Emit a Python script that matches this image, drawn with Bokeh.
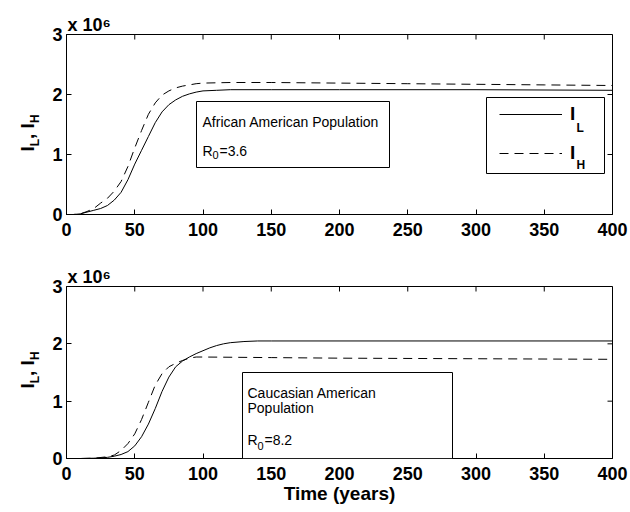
from bokeh.plotting import figure
from bokeh.models import (Label, BoxAnnotation, Legend, LegendItem,
                          Range1d, FixedTicker, Div)
from bokeh.layouts import column, row
from bokeh.embed import file_html
from bokeh.resources import INLINE

# ---------------- data (values in units of 10^6) ----------------
x_ticks = [0, 50, 100, 150, 200, 250, 300, 350, 400]
y_ticks = [0, 1, 2, 3]

# African American population, R0 = 3.6
aa_time_L = [0, 5, 10, 15, 20, 25, 30, 35, 40, 45, 50, 55, 60, 65, 70, 75, 80,
             85, 90, 95, 100, 110, 120, 150, 200, 300, 400]
aa_IL = [0, 0, 0.01, 0.04, 0.07, 0.1, 0.15, 0.24, 0.37, 0.58, 0.84, 1.07, 1.3,
         1.53, 1.71, 1.83, 1.91, 1.97, 2.01, 2.04, 2.06, 2.07, 2.08, 2.08, 2.08,
         2.08, 2.07]
aa_time_H = [0, 5, 10, 15, 20, 25, 30, 35, 40, 45, 50, 55, 60, 65, 70, 75, 80,
             85, 90, 95, 100, 120, 150, 200, 250, 300, 350, 400]
aa_IH = [0, 0, 0.01, 0.05, 0.1, 0.19, 0.27, 0.39, 0.55, 0.8, 1.11, 1.4, 1.67,
         1.86, 1.99, 2.06, 2.11, 2.14, 2.16, 2.18, 2.19, 2.2, 2.2, 2.19, 2.18,
         2.17, 2.16, 2.15]

# Caucasian American population, R0 = 8.2
ca_time_L = [0, 10, 20, 25, 30, 35, 40, 45, 50, 55, 60, 65, 70, 75, 80, 85, 90,
             95, 100, 105, 110, 115, 120, 130, 140, 150, 400]
ca_IL = [0, 0, 0.005, 0.01, 0.02, 0.04, 0.07, 0.12, 0.22, 0.38, 0.6, 0.87,
         1.17, 1.42, 1.6, 1.7, 1.77, 1.83, 1.88, 1.93, 1.97, 2.0, 2.02, 2.04,
         2.05, 2.05, 2.05]
ca_time_H = [0, 10, 20, 30, 35, 40, 45, 50, 55, 60, 65, 70, 75, 80, 85, 90, 95,
             100, 150, 200, 300, 400]
ca_IH = [0, 0, 0.005, 0.03, 0.06, 0.14, 0.26, 0.43, 0.68, 0.98, 1.28, 1.48,
         1.6, 1.66, 1.71, 1.75, 1.77, 1.77, 1.76, 1.75, 1.74, 1.73]

FONT = "Liberation Sans"
DIV_W = 40
FIG_W = 590


def make_fig(height, top_b, bottom_b):
    p = figure(width=FIG_W, height=height, x_range=Range1d(0, 400),
               y_range=Range1d(0, 3), output_backend="svg",
               toolbar_location=None, min_border_left=26,
               min_border_right=18, min_border_top=top_b,
               min_border_bottom=bottom_b)
    p.grid.visible = False
    p.outline_line_color = "black"
    p.outline_line_width = 1
    p.background_fill_color = "white"
    p.border_fill_color = "white"
    p.xaxis.ticker = FixedTicker(ticks=x_ticks)
    p.yaxis.ticker = FixedTicker(ticks=y_ticks)
    for ax in p.axis:
        ax.major_tick_in = 5
        ax.major_tick_out = 0
        ax.minor_tick_line_color = None
        ax.axis_line_color = "black"
        ax.major_tick_line_color = "black"
        ax.major_label_text_font = FONT
        ax.major_label_text_font_style = "bold"
        ax.major_label_text_font_size = "18px"
        ax.major_label_text_color = "black"
    p.xaxis.major_label_standoff = 8
    p.yaxis.major_label_standoff = 4
    # mirrored inward ticks on the top and right edges
    p.ray(x=x_ticks, y=[3] * len(x_ticks), length=5, length_units="screen",
          angle=-90, angle_units="deg", line_color="black", line_width=1)
    p.ray(x=[400] * len(y_ticks), y=y_ticks, length=5, length_units="screen",
          angle=180, angle_units="deg", line_color="black", line_width=1)
    # scale factor above the axes
    p.title.text = "x 10\u2076"
    p.title.align = "left"
    p.title.offset = 1
    p.title.standoff = 0
    p.title.text_font = FONT
    p.title.text_font_size = "18px"
    p.title.text_font_style = "bold"
    p.title.text_color = "black"
    return p


def page_to_data(frame, px, py):
    l, r, t, b = frame
    return (px - l) / (r - l) * 400.0, (b - py) / (b - t) * 3.0


def txt(p, frame, text, px, py, size, bold=False):
    x, y = page_to_data(frame, px, py)
    p.add_layout(Label(x=x, y=y, text=text, text_font=FONT,
                       text_font_size=f"{size}px",
                       text_font_style="bold" if bold else "normal",
                       text_color="black", text_align="left",
                       text_baseline="alphabetic"))


def box(p, frame, x0, y0, x1, y1):
    l, b = page_to_data(frame, x0, y1)
    r, t = page_to_data(frame, x1, y0)
    p.add_layout(BoxAnnotation(left=l, right=r, bottom=b, top=t,
                               fill_color="white", fill_alpha=1,
                               line_color="black", line_alpha=1,
                               line_width=1))


def ylabel_div(height, cy):
    sub = ("font-size:12px;position:relative;top:5px;")
    html = (
        f'<div style="position:relative;width:{DIV_W}px;height:{height}px;">'
        f'<div style="position:absolute;left:27px;top:{cy}px;'
        f'transform:translate(-50%,-50%) rotate(-90deg);white-space:nowrap;'
        f"font-family:'{FONT}';font-weight:bold;font-size:19px;"
        f'line-height:1;color:black;">'
        f'I<span style="{sub}">L</span>, I<span style="{sub}">H</span>'
        f'</div></div>')
    return Div(text=html, width=DIV_W, height=height, margin=0)


# ---------------- top panel ----------------
f1 = (66, 612, 34, 214)
p1 = make_fig(256, 34, 42)
r_l1 = p1.line(aa_time_L, aa_IL, line_color="black", line_width=1)
r_h1 = p1.line(aa_time_H, aa_IH, line_color="black", line_width=1,
               line_dash="9 6")
box(p1, f1, 196, 101, 389, 167)
txt(p1, f1, "African American Population", 202, 121, 14)
txt(p1, f1, "R", 202, 150, 14)
txt(p1, f1, "0", 212, 154, 11)
txt(p1, f1, "=3.6", 219, 150, 14)
# legend frame, then a borderless legend on top, then the subscripts
box(p1, f1, 486, 97, 604, 173)
legend = Legend(items=[LegendItem(label="I", renderers=[r_l1]),
                       LegendItem(label="I", renderers=[r_h1])],
                location=(433, 50), padding=0, spacing=17, margin=0,
                glyph_width=63, glyph_height=20, label_height=20,
                label_width=10, label_standoff=8,
                label_text_font=FONT, label_text_font_size="19px",
                label_text_font_style="bold", label_text_color="black",
                label_text_baseline="alphabetic",
                border_line_color=None, background_fill_alpha=0)
p1.add_layout(legend)
txt(p1, f1, "L", 576, 127, 12, bold=True)
txt(p1, f1, "H", 576, 164, 12, bold=True)

# ---------------- bottom panel ----------------
f2 = (66, 612, 286, 458)
p2 = make_fig(256, 30, 54)
p2.line(ca_time_L, ca_IL, line_color="black", line_width=1)
p2.line(ca_time_H, ca_IH, line_color="black", line_width=1, line_dash="9 6")
xa = p2.below[0]
xa.axis_label = "Time (years)"
xa.axis_label_text_font = FONT
xa.axis_label_text_font_style = "bold"
xa.axis_label_text_font_size = "19px"
xa.axis_label_text_color = "black"
xa.axis_label_standoff = 0
box(p2, f2, 242, 372, 452, 458)
txt(p2, f2, "Caucasian American", 247, 392, 14)
txt(p2, f2, "Population", 247, 407, 14)
txt(p2, f2, "R", 247, 439, 14)
txt(p2, f2, "0", 257, 445, 11)
txt(p2, f2, "=8.2", 264, 439, 14)

layout = column(row(ylabel_div(256, 133), p1, spacing=0),
                row(ylabel_div(256, 114), p2, spacing=0), spacing=0)
open("out.html", "w").write(file_html(layout, INLINE))
